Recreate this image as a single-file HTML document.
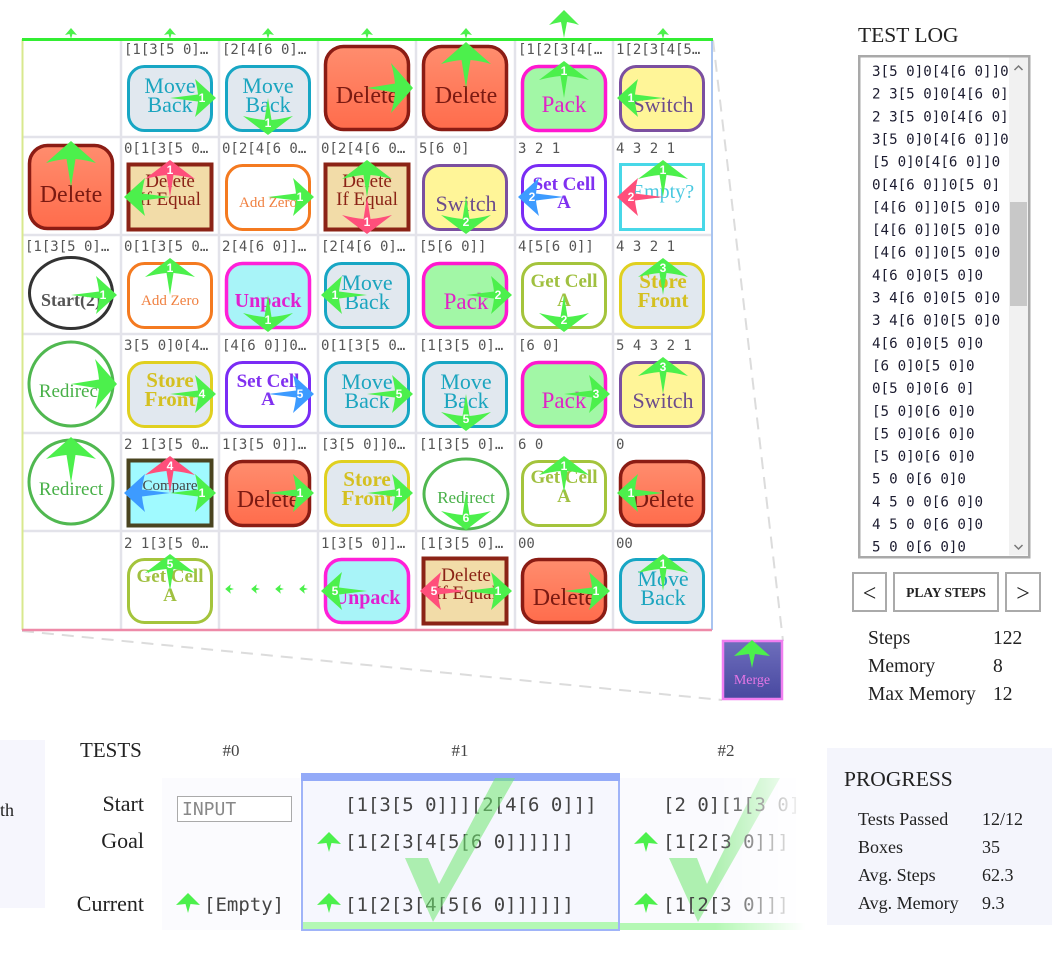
<!DOCTYPE html>
<html><head><meta charset="utf-8">
<style>
html,body{margin:0;padding:0;background:#fff;}
body{width:1052px;height:956px;overflow:hidden;}
svg{display:block;}
.h{font-family:"DejaVu Sans Mono","Liberation Mono",monospace;font-size:14px;fill:#555;}
.n{font-family:"Liberation Sans",sans-serif;font-weight:bold;font-size:12px;fill:#fff;text-anchor:middle;}
.l{font-family:"Liberation Serif",serif;text-anchor:middle;}
.s{font-family:"Liberation Serif",serif;fill:#222;}
.m{font-family:"DejaVu Sans Mono","Liberation Mono",monospace;}
.mb{fill:#e1e8ef;stroke:#17a6c4;stroke-width:3;}
.mbt{fill:#1ba5bf;font-size:22px;}
.dl{fill:url(#dg);stroke:#8b1c14;stroke-width:3.5;}
.dlt{fill:#7b1a12;font-size:24px;}
.pk{fill:#a2f7a6;stroke:#ff18d0;stroke-width:3.5;}
.pkt{fill:#e023c6;font-size:23px;}
.sw{fill:#fff598;stroke:#7b4fa0;stroke-width:3;}
.swt{fill:#6c4c8c;font-size:22px;}
.de{fill:#f2dca8;stroke:#8b2316;stroke-width:4;}
.det{fill:#8b2316;font-size:19px;}
.az{fill:#fff;stroke:#f47a20;stroke-width:3;}
.azt{fill:#f08040;font-size:15px;}
.sc{fill:#fff;stroke:#7a2cf5;stroke-width:3;}
.sct{fill:#8030f0;font-size:19px;font-weight:bold;}
.em{fill:#fff;stroke:#48d8e8;stroke-width:3;}
.emt{fill:#48c8e0;font-size:20px;}
.un{fill:#a8f4f8;stroke:#ff20d8;stroke-width:3.5;}
.unt{fill:#e020d0;font-size:20px;font-weight:bold;}
.gc{fill:#fff;stroke:#a4c43c;stroke-width:3;}
.gct{fill:#a0c040;font-size:19px;font-weight:bold;}
.sf{fill:#e1e8ef;stroke:#e0d020;stroke-width:3;}
.sft{fill:#d4c020;font-size:21px;font-weight:bold;}
.rd{fill:#fff;stroke:#50b850;stroke-width:3;}
.rdt{fill:#48b048;font-size:19px;}
</style></head>
<body>
<svg width="1052" height="956" viewBox="0 0 1052 956" xmlns="http://www.w3.org/2000/svg">
<defs>
<linearGradient id="dg" x1="0" y1="0" x2="0" y2="1"><stop offset="0" stop-color="#ff8d6e"/><stop offset="1" stop-color="#ff6c4c"/></linearGradient>
<linearGradient id="mg" x1="0" y1="0" x2="0" y2="1"><stop offset="0" stop-color="#6e6ebc"/><stop offset="1" stop-color="#4848a0"/></linearGradient>
<linearGradient id="fade" gradientUnits="userSpaceOnUse" x1="715" y1="0" x2="805" y2="0"><stop offset="0" stop-color="#fff"/><stop offset="1" stop-color="#000"/></linearGradient>
<mask id="fm" maskUnits="userSpaceOnUse" x="600" y="760" width="260" height="190"><rect x="600" y="760" width="260" height="190" fill="url(#fade)"/></mask>
<path id="ah" d="M0,0 L28,-3.5 Q27,-12 25,-19 L46,0 L25,19 Q27,12 28,3.5 Z"/>
<path id="av" d="M0,0 L22,-3.5 Q21,-14 18,-25 L37,0 L18,25 Q21,14 22,3.5 Z"/>
<path id="ab" d="M0,0 L28,-4.5 Q27,-15 24,-25 L46,0 L24,25 Q27,15 28,4.5 Z"/>
<path id="at" d="M0,0 L5,-1.5 L4,-6 L11,0 L4,6 L5,1.5 Z"/>
<path id="atb" d="M0,0 L16,-3 Q15,-9 13,-15 L28,0 L13,15 Q15,9 16,3 Z"/>
<path id="ai" d="M0,0 L9,-2.5 L8,-12 L20,0 L8,12 L9,2.5 Z"/>
<path id="am" d="M0,0 L14,-3 Q13,-10 12,-18 L28,0 L12,18 Q13,10 14,3 Z"/>
</defs>

<!-- dashed perspective lines -->
<line x1="713" y1="40" x2="783" y2="641" stroke="#dcdcdc" stroke-width="2" stroke-dasharray="12 8"/>
<line x1="22" y1="631" x2="722" y2="700" stroke="#dcdcdc" stroke-width="2" stroke-dasharray="12 8"/>

<!-- grid -->
<rect x="22" y="39" width="690" height="591" fill="#fff"/>
<g stroke="#e3e3ea" stroke-width="2.5">
<line x1="121" y1="39" x2="121" y2="630"/><line x1="219" y1="39" x2="219" y2="630"/><line x1="318" y1="39" x2="318" y2="630"/><line x1="416" y1="39" x2="416" y2="630"/><line x1="515" y1="39" x2="515" y2="630"/><line x1="613" y1="39" x2="613" y2="630"/>
<line x1="22" y1="137" x2="712" y2="137"/><line x1="22" y1="235" x2="712" y2="235"/><line x1="22" y1="334" x2="712" y2="334"/><line x1="22" y1="433" x2="712" y2="433"/><line x1="22" y1="531" x2="712" y2="531"/>
</g>
<line x1="22.5" y1="39" x2="22.5" y2="630" stroke="#d8e88e" stroke-width="2"/>
<line x1="712" y1="39" x2="712" y2="630" stroke="#a8c4f0" stroke-width="2"/>
<line x1="22" y1="630" x2="712" y2="630" stroke="#ee8aa8" stroke-width="2.5"/>
<line x1="22" y1="39.5" x2="713" y2="39.5" stroke="#33ee33" stroke-width="3"/>
<g fill="#4cf04c">
<use href="#at" transform="translate(71,39) rotate(-90)"/><use href="#at" transform="translate(170,39) rotate(-90)"/><use href="#at" transform="translate(268,39) rotate(-90)"/><use href="#at" transform="translate(367,39) rotate(-90)"/><use href="#at" transform="translate(466,39) rotate(-90)"/><use href="#at" transform="translate(663,39) rotate(-90)"/>
<use href="#atb" transform="translate(564,38) rotate(-90)"/>
</g>

<!-- Row 0 -->
<text class="h" x="124" y="54">[1[3[5 0]…</text>
<rect class="mb" x="128.5" y="66.5" width="83" height="64" rx="16"/>
<text class="l mbt" x="170" y="93">Move</text><text class="l mbt" x="170" y="112">Back</text>
<text class="h" x="222" y="54">[2[4[6 0]…</text>
<rect class="mb" x="226.5" y="66.5" width="83" height="64" rx="16"/>
<text class="l mbt" x="268" y="93">Move</text><text class="l mbt" x="268" y="112">Back</text>
<rect class="dl" x="325.5" y="46.5" width="83" height="83" rx="18"/>
<text class="l dlt" x="367" y="103">Delete</text>
<rect class="dl" x="423.5" y="46.5" width="83" height="83" rx="18"/>
<text class="l dlt" x="466" y="103">Delete</text>
<text class="h" x="518" y="54">[1[2[3[4[…</text>
<rect class="pk" x="522.5" y="66.5" width="83" height="64" rx="16"/>
<text class="l pkt" x="564" y="112">Pack</text>
<text class="h" x="616" y="54">1[2[3[4[5…</text>
<rect class="sw" x="620.5" y="66.5" width="83" height="64" rx="16"/>
<text class="l swt" x="663" y="112">Switch</text>

<!-- Row 1 -->
<rect class="dl" x="29.5" y="145.5" width="83" height="83" rx="18"/>
<text class="l dlt" x="71" y="202">Delete</text>
<text class="h" x="124" y="153">0[1[3[5 0…</text>
<rect class="de" x="128.5" y="164.5" width="83" height="65"/>
<text class="l det" x="170" y="187">Delete</text><text class="l det" x="170" y="205">If Equal</text>
<text class="h" x="222" y="153">0[2[4[6 0…</text>
<rect class="az" x="226.5" y="165.5" width="83" height="64" rx="16"/>
<text class="l azt" x="268" y="207">Add Zero</text>
<text class="h" x="321" y="153">0[2[4[6 0…</text>
<rect class="de" x="325.5" y="164.5" width="83" height="65"/>
<text class="l det" x="367" y="187">Delete</text><text class="l det" x="367" y="205">If Equal</text>
<text class="h" x="419" y="153">5[6 0]</text>
<rect class="sw" x="423.5" y="165.5" width="83" height="64" rx="16"/>
<text class="l swt" x="466" y="211">Switch</text>
<text class="h" x="518" y="153">3 2 1</text>
<rect class="sc" x="522.5" y="165.5" width="83" height="64" rx="16"/>
<text class="l sct" x="564" y="190">Set Cell</text><text class="l sct" x="564" y="208">A</text>
<text class="h" x="616" y="153">4 3 2 1</text>
<rect class="em" x="620.5" y="164.5" width="83" height="65"/>
<text class="l emt" x="663" y="198">Empty?</text>

<!-- Row 2 -->
<text class="h" x="25" y="251">[1[3[5 0]…</text>
<ellipse cx="71" cy="293" rx="41.5" ry="35.5" fill="#fff" stroke="#333" stroke-width="3"/>
<text class="l" x="71" y="306" style="font-size:18px;font-weight:bold;fill:#555">Start(2)</text>
<text class="h" x="124" y="251">0[1[3[5 0…</text>
<rect class="az" x="128.5" y="263.5" width="83" height="64" rx="16"/>
<text class="l azt" x="170" y="305">Add Zero</text>
<text class="h" x="222" y="251">2[4[6 0]]…</text>
<rect class="un" x="226.5" y="263.5" width="83" height="64" rx="16"/>
<text class="l unt" x="268" y="307">Unpack</text>
<text class="h" x="321" y="251">[2[4[6 0]…</text>
<rect class="mb" x="325.5" y="263.5" width="83" height="64" rx="16"/>
<text class="l mbt" x="367" y="290">Move</text><text class="l mbt" x="367" y="309">Back</text>
<text class="h" x="419" y="251">[5[6 0]]</text>
<rect class="pk" x="423.5" y="263.5" width="83" height="64" rx="16"/>
<text class="l pkt" x="466" y="309">Pack</text>
<text class="h" x="518" y="251">4[5[6 0]]</text>
<rect class="gc" x="522.5" y="263.5" width="83" height="64" rx="16"/>
<text class="l gct" x="564" y="287">Get Cell</text><text class="l gct" x="564" y="306">A</text>
<text class="h" x="616" y="251">4 3 2 1</text>
<rect class="sf" x="620.5" y="263.5" width="83" height="64" rx="16"/>
<text class="l sft" x="663" y="288">Store</text><text class="l sft" x="663" y="307">Front</text>

<!-- Row 3 -->
<circle class="rd" cx="71" cy="384" r="42"/>
<text class="l rdt" x="71" y="397">Redirect</text>
<text class="h" x="124" y="350">3[5 0]0[4…</text>
<rect class="sf" x="128.5" y="362.5" width="83" height="64" rx="16"/>
<text class="l sft" x="170" y="387">Store</text><text class="l sft" x="170" y="406">Front</text>
<text class="h" x="222" y="350">[4[6 0]]0…</text>
<rect class="sc" x="226.5" y="362.5" width="83" height="64" rx="16"/>
<text class="l sct" x="268" y="387">Set Cell</text><text class="l sct" x="268" y="405">A</text>
<text class="h" x="321" y="350">0[1[3[5 0…</text>
<rect class="mb" x="325.5" y="362.5" width="83" height="64" rx="16"/>
<text class="l mbt" x="367" y="389">Move</text><text class="l mbt" x="367" y="408">Back</text>
<text class="h" x="419" y="350">[1[3[5 0]…</text>
<rect class="mb" x="423.5" y="362.5" width="83" height="64" rx="16"/>
<text class="l mbt" x="466" y="389">Move</text><text class="l mbt" x="466" y="408">Back</text>
<text class="h" x="518" y="350">[6 0]</text>
<rect class="pk" x="522.5" y="362.5" width="83" height="64" rx="16"/>
<text class="l pkt" x="564" y="408">Pack</text>
<text class="h" x="616" y="350">5 4 3 2 1</text>
<rect class="sw" x="620.5" y="362.5" width="83" height="64" rx="16"/>
<text class="l swt" x="663" y="408">Switch</text>

<!-- Row 4 -->
<circle class="rd" cx="71" cy="482" r="42"/>
<text class="l rdt" x="71" y="495">Redirect</text>
<text class="h" x="124" y="449">2 1[3[5 0…</text>
<rect x="128.5" y="460.5" width="83" height="65" fill="#a0faff" stroke="#4a4420" stroke-width="4"/>
<text class="l" x="170" y="490" style="font-size:15px;fill:#444">Compare</text>
<text class="h" x="222" y="449">1[3[5 0]]…</text>
<rect class="dl" x="226.5" y="461.5" width="83" height="64" rx="16"/>
<text class="l dlt" x="268" y="507">Delete</text>
<text class="h" x="321" y="449">[3[5 0]]0…</text>
<rect class="sf" x="325.5" y="461.5" width="83" height="64" rx="16"/>
<text class="l sft" x="367" y="486">Store</text><text class="l sft" x="367" y="505">Front</text>
<text class="h" x="419" y="449">[1[3[5 0]…</text>
<ellipse class="rd" cx="466" cy="494" rx="42" ry="35"/>
<text class="l rdt" x="466" y="503" style="font-size:17px">Redirect</text>
<text class="h" x="518" y="449">6 0</text>
<rect class="gc" x="522.5" y="461.5" width="83" height="64" rx="16"/>
<text class="l gct" x="564" y="483">Get Cell</text><text class="l gct" x="564" y="502">A</text>
<text class="h" x="616" y="449">0</text>
<rect class="dl" x="620.5" y="461.5" width="83" height="64" rx="16"/>
<text class="l dlt" x="663" y="507">Delete</text>

<!-- Row 5 -->
<text class="h" x="124" y="548">2 1[3[5 0…</text>
<rect class="gc" x="128.5" y="559.5" width="83" height="63" rx="16"/>
<text class="l gct" x="170" y="582">Get Cell</text><text class="l gct" x="170" y="601">A</text>
<text class="h" x="321" y="548">1[3[5 0]]…</text>
<rect class="un" x="325.5" y="559.5" width="83" height="63" rx="16"/>
<text class="l unt" x="367" y="604">Unpack</text>
<text class="h" x="419" y="548">[1[3[5 0]…</text>
<rect class="de" x="423.5" y="558.5" width="83" height="65"/>
<text class="l det" x="466" y="581">Delete</text><text class="l det" x="466" y="599">If Equal</text>
<text class="h" x="518" y="548">00</text>
<rect class="dl" x="522.5" y="559.5" width="83" height="63" rx="16"/>
<text class="l dlt" x="564" y="605">Delete</text>
<text class="h" x="616" y="548">00</text>
<rect class="mb" x="620.5" y="559.5" width="83" height="63" rx="16"/>
<text class="l mbt" x="663" y="586">Move</text><text class="l mbt" x="663" y="605">Back</text>
<g fill="#4cf04c">
<use href="#at" transform="translate(234,589) rotate(180) scale(0.8)"/>
<use href="#at" transform="translate(260,589) rotate(180) scale(0.8)"/>
<use href="#at" transform="translate(284,589) rotate(180) scale(0.8)"/>
<use href="#at" transform="translate(308,589) rotate(180) scale(0.8)"/>
</g>

<!-- Arrows -->
<g fill="#4cf04c">
<use href="#ah" transform="translate(170,98)"/>
<use href="#av" transform="translate(268,98) rotate(90)"/>
<use href="#ab" transform="translate(367,88)"/>
<use href="#ab" transform="translate(466,88) rotate(-90)"/>
<use href="#av" transform="translate(564,98) rotate(-90)"/>
<use href="#ah" transform="translate(663,98) rotate(180)"/>
<use href="#ab" transform="translate(71,187) rotate(-90)"/>
<use href="#ah" transform="translate(170,197) rotate(180)"/>
<use href="#ah" transform="translate(268,197)"/>
<use href="#av" transform="translate(367,197) rotate(-90)"/>
<use href="#av" transform="translate(466,197) rotate(90)"/>
<use href="#av" transform="translate(663,197) rotate(-90)"/>
<use href="#ah" transform="translate(71,295)"/>
<use href="#av" transform="translate(170,295) rotate(-90)"/>
<use href="#av" transform="translate(268,295) rotate(90)"/>
<use href="#ah" transform="translate(367,295) rotate(180)"/>
<use href="#ah" transform="translate(466,295)"/>
<use href="#av" transform="translate(564,295) rotate(90)"/>
<use href="#av" transform="translate(663,295) rotate(-90)"/>
<use href="#ab" transform="translate(71,384)"/>
<use href="#ah" transform="translate(170,394)"/>
<use href="#ah" transform="translate(367,394)"/>
<use href="#av" transform="translate(466,394) rotate(90)"/>
<use href="#ah" transform="translate(564,394)"/>
<use href="#av" transform="translate(663,394) rotate(-90)"/>
<use href="#ab" transform="translate(71,483) rotate(-90)"/>
<use href="#ah" transform="translate(170,493)"/>
<use href="#ah" transform="translate(268,493)"/>
<use href="#ah" transform="translate(367,493)"/>
<use href="#av" transform="translate(466,493) rotate(90)"/>
<use href="#av" transform="translate(564,493) rotate(-90)"/>
<use href="#ah" transform="translate(663,493) rotate(180)"/>
<use href="#av" transform="translate(170,591) rotate(-90)"/>
<use href="#ah" transform="translate(367,591) rotate(180)"/>
<use href="#ah" transform="translate(466,591)"/>
<use href="#ah" transform="translate(564,591)"/>
<use href="#av" transform="translate(663,591) rotate(-90)"/>
</g>
<g fill="#ff4f7b">
<use href="#av" transform="translate(170,197) rotate(-90)"/>
<use href="#av" transform="translate(367,197) rotate(90)"/>
<use href="#ah" transform="translate(663,197) rotate(180)"/>
<use href="#av" transform="translate(170,493) rotate(-90)"/>
<use href="#ah" transform="translate(466,591) rotate(180)"/>
</g>
<g fill="#3d9bff">
<use href="#ah" transform="translate(564,197) rotate(180)"/>
<use href="#ah" transform="translate(268,394)"/>
<use href="#ah" transform="translate(170,493) rotate(180)"/>
</g>
<text class="n" x="202" y="102">1</text>
<text class="n" x="268" y="127">1</text>
<text class="n" x="564" y="75">1</text>
<text class="n" x="631" y="102">1</text>
<text class="n" x="170" y="174">1</text>
<text class="n" x="300" y="201">1</text>
<text class="n" x="367" y="226">1</text>
<text class="n" x="466" y="226">2</text>
<text class="n" x="532" y="201">2</text>
<text class="n" x="663" y="174">1</text>
<text class="n" x="631" y="201">2</text>
<text class="n" x="103" y="299">1</text>
<text class="n" x="170" y="272">1</text>
<text class="n" x="268" y="324">1</text>
<text class="n" x="335" y="299">1</text>
<text class="n" x="498" y="299">2</text>
<text class="n" x="564" y="324">2</text>
<text class="n" x="663" y="272">3</text>
<text class="n" x="202" y="398">4</text>
<text class="n" x="300" y="398">5</text>
<text class="n" x="399" y="398">5</text>
<text class="n" x="466" y="423">5</text>
<text class="n" x="596" y="398">3</text>
<text class="n" x="663" y="371">3</text>
<text class="n" x="170" y="470">4</text>
<text class="n" x="202" y="497">1</text>
<text class="n" x="300" y="497">1</text>
<text class="n" x="399" y="497">1</text>
<text class="n" x="466" y="522">6</text>
<text class="n" x="564" y="470">1</text>
<text class="n" x="631" y="497">1</text>
<text class="n" x="170" y="568">5</text>
<text class="n" x="335" y="595">5</text>
<text class="n" x="434" y="595">5</text>
<text class="n" x="498" y="595">1</text>
<text class="n" x="596" y="595">1</text>
<text class="n" x="663" y="568">1</text>

<!-- Merge -->
<rect x="723" y="641" width="59" height="58" fill="url(#mg)" stroke="#f07ef0" stroke-width="2.5"/>
<text class="l" x="752" y="684" style="font-size:14px;fill:#e676e6">Merge</text>
<use href="#am" fill="#4cf04c" transform="translate(752,668) rotate(-90)"/>

<!-- TEST LOG -->
<text class="s" x="858" y="42" style="font-size:21.5px">TEST LOG</text>
<rect x="859.25" y="56.25" width="170" height="501" fill="#fff" stroke="#a9a9a9" stroke-width="2.5"/>
<rect x="1009" y="57.5" width="19" height="498" fill="#f1f1f1"/>
<rect x="1010" y="202" width="17" height="104" fill="#c8c8c8"/>
<path d="M1014.5,70 L1018.5,66 L1022.5,70" fill="none" stroke="#777" stroke-width="1.5"/>
<path d="M1014.5,545 L1018.5,549 L1022.5,545" fill="none" stroke="#777" stroke-width="1.5"/>
<g class="m" style="font-size:14.2px" fill="#1c1c30">
<text x="872" y="76">3[5 0]0[4[6 0]]0</text>
<text x="872" y="98.6">2 3[5 0]0[4[6 0]</text>
<text x="872" y="121.3">2 3[5 0]0[4[6 0]</text>
<text x="872" y="144">3[5 0]0[4[6 0]]0</text>
<text x="872" y="166.6">[5 0]0[4[6 0]]0</text>
<text x="872" y="189.3">0[4[6 0]]0[5 0]</text>
<text x="872" y="211.9">[4[6 0]]0[5 0]0</text>
<text x="872" y="234.6">[4[6 0]]0[5 0]0</text>
<text x="872" y="257.2">[4[6 0]]0[5 0]0</text>
<text x="872" y="279.9">4[6 0]0[5 0]0</text>
<text x="872" y="302.5">3 4[6 0]0[5 0]0</text>
<text x="872" y="325.2">3 4[6 0]0[5 0]0</text>
<text x="872" y="347.8">4[6 0]0[5 0]0</text>
<text x="872" y="370.5">[6 0]0[5 0]0</text>
<text x="872" y="393.1">0[5 0]0[6 0]</text>
<text x="872" y="415.8">[5 0]0[6 0]0</text>
<text x="872" y="438.4">[5 0]0[6 0]0</text>
<text x="872" y="461.1">[5 0]0[6 0]0</text>
<text x="872" y="483.7">5 0 0[6 0]0</text>
<text x="872" y="506.4">4 5 0 0[6 0]0</text>
<text x="872" y="529">4 5 0 0[6 0]0</text>
<text x="872" y="551.7">5 0 0[6 0]0</text>
</g>
<rect x="853" y="573" width="33" height="38" fill="#fff" stroke="#aaa" stroke-width="2"/>
<rect x="894" y="573" width="104" height="38" fill="#fff" stroke="#aaa" stroke-width="2"/>
<rect x="1006" y="573" width="34" height="38" fill="#fff" stroke="#aaa" stroke-width="2"/>
<text class="l" x="869.5" y="601" style="font-size:24px;fill:#222">&lt;</text>
<text class="l" x="946" y="597" style="font-size:13.5px;font-weight:bold;fill:#222">PLAY STEPS</text>
<text class="l" x="1023" y="601" style="font-size:24px;fill:#222">&gt;</text>
<g class="s" style="font-size:19.5px">
<text x="868" y="644">Steps</text><text x="993" y="644">122</text>
<text x="868" y="672">Memory</text><text x="993" y="672">8</text>
<text x="868" y="700">Max Memory</text><text x="993" y="700">12</text>
</g>

<!-- Bottom left panel -->
<rect x="0" y="740" width="45" height="168" fill="#f6f6fd"/>
<text class="s" x="14" y="816" text-anchor="end" style="font-size:18px">th</text>

<!-- TESTS -->
<text class="s" x="80" y="757" style="font-size:21px">TESTS</text>
<text class="l" x="231" y="756" style="font-size:17px;fill:#444">#0</text>
<text class="l" x="460" y="756" style="font-size:17px;fill:#444">#1</text>
<text class="l" x="726" y="756" style="font-size:17px;fill:#444">#2</text>
<g class="s" style="font-size:22px" text-anchor="end">
<text x="144" y="811">Start</text>
<text x="144" y="848">Goal</text>
<text x="144" y="911">Current</text>
</g>
<!-- #0 -->
<rect x="162" y="778" width="138" height="152" fill="#fbfbfe"/>
<rect x="177.5" y="796.5" width="114" height="25" fill="#fff" stroke="#aaa" stroke-width="1"/>
<text class="m" x="182" y="815" style="font-size:18px" fill="#888">INPUT</text>
<use href="#ai" fill="#4cf04c" transform="translate(188,913) rotate(-90)"/>
<text class="m" x="204" y="911" style="font-size:19px" fill="#444">[Empty]</text>

<!-- #2 (faded) -->
<g mask="url(#fm)">
<rect x="620" y="778" width="200" height="152" fill="#fafafe"/>
<rect x="620" y="923" width="200" height="7" fill="#b4f8b4"/>
<polygon points="669,858 697,858 707,884 760,778 780,778 698,922" fill="#6fe86f" opacity="0.55"/>
<g class="m" style="font-size:19px" fill="#444">
<text x="663" y="811">[2 0][1[3 0]</text>
<text x="663" y="848">[1[2[3 0]]]</text>
<text x="663" y="911">[1[2[3 0]]]</text>
</g>
<use href="#ai" fill="#4cf04c" transform="translate(646,852) rotate(-90)"/>
<use href="#ai" fill="#4cf04c" transform="translate(646,913) rotate(-90)"/>
</g>

<!-- #1 -->
<rect x="302" y="774" width="317" height="156" fill="#f6f7fe" stroke="#a0b4f8" stroke-width="2"/>
<rect x="301" y="773" width="319" height="8" fill="#93aaf8"/>
<rect x="303" y="922" width="315" height="7" fill="#b4f8b4"/>
<g class="m" style="font-size:19px" fill="#444">
<text x="345" y="811">[1[3[5 0]]][2[4[6 0]]]</text>
<text x="345" y="848">[1[2[3[4[5[6 0]]]]]]</text>
<text x="345" y="911">[1[2[3[4[5[6 0]]]]]]</text>
</g>
<use href="#ai" fill="#4cf04c" transform="translate(329,852) rotate(-90)"/>
<use href="#ai" fill="#4cf04c" transform="translate(329,913) rotate(-90)"/>
<polygon points="405,858 428,858 439,884 495,778 515,778 433,922" fill="#6fe86f" opacity="0.55"/>

<!-- PROGRESS -->
<rect x="827" y="748" width="225" height="177" fill="#f4f5fc"/>
<text class="s" x="844" y="786" style="font-size:21.5px">PROGRESS</text>
<g class="s" style="font-size:18px">
<text x="858" y="825">Tests Passed</text><text x="982" y="825">12/12</text>
<text x="858" y="853">Boxes</text><text x="982" y="853">35</text>
<text x="858" y="881">Avg. Steps</text><text x="982" y="881">62.3</text>
<text x="858" y="909">Avg. Memory</text><text x="982" y="909">9.3</text>
</g>
</svg>
</body></html>
